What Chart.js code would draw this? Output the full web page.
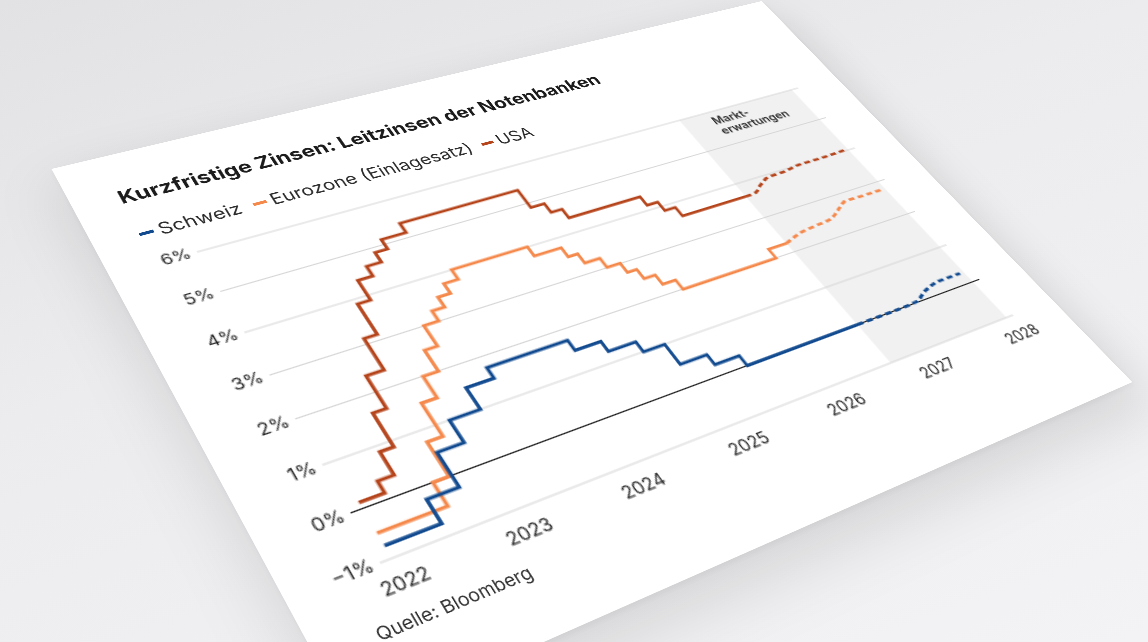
<!DOCTYPE html>
<html lang="de">
<head>
<meta charset="utf-8">
<title>Kurzfristige Zinsen: Leitzinsen der Notenbanken</title>
<script src="https://cdn.jsdelivr.net/npm/chart.js@4.4.1/dist/chart.umd.min.js"></script>
<style>
  html, body { margin: 0; padding: 0; }
  body {
    width: 1148px; height: 642px; overflow: hidden; position: relative;
    background: linear-gradient(160deg, #e2e2e4 0%, #ececee 40%, #f3f3f5 100%);
  }
  #card {
    position: absolute; left: 0; top: 0;
    width: 693px; height: 499px;
    background: #fff;
    transform-origin: 0 0;
    box-shadow: 0 18px 50px rgba(0, 0, 0, 0.13), 0 2px 6px rgba(0, 0, 0, 0.05);
    font-family: Inter, "Noto Sans", sans-serif;
  }
  #card canvas { display: block; position: absolute; left: 0; top: 0; }
  .txt { position: absolute; white-space: nowrap; }
  #title { left: 35px; top: 36px; font-size: 18.5px; line-height: 18.5px; font-weight: 700; color: #1c1c1c; }
  #legend { left: 35px; top: 76.8px; font-size: 16.5px; line-height: 16.5px; color: #2b2b2b; display: flex; }
  #legend .item { display: inline-flex; align-items: center; margin-right: 10px; }
  #legend .item i { display: inline-block; width: 11px; height: 3px; margin-right: 4px; }
  #source { left: 41px; top: 445px; font-size: 13px; line-height: 13px; color: #333; }
</style>
</head>
<body>
<div id="card">
  <canvas id="zinsen" width="693" height="499"></canvas>
  <div class="txt" id="title">Kurzfristige Zinsen: Leitzinsen der Notenbanken</div>
  <div class="txt" id="legend"></div>
  <div class="txt" id="source">Quelle: Bloomberg</div>
</div>
<script>
"use strict";

/* Leitzinsen (Datum der Aenderung, neuer Satz) */
var chDates = ['2022-01-01', '2022-06-16', '2022-09-22', '2022-12-15', '2023-03-23', '2023-06-22',
    '2024-03-21', '2024-06-20', '2024-09-26', '2024-12-12', '2025-03-20', '2025-06-19', '2026-08-25'];
var chRates = [-0.75, -0.25, 0.5, 1.0, 1.5, 1.75, 1.5, 1.25, 1.0, 0.5, 0.25, 0, 0];

var euDates = ['2022-01-01', '2022-07-27', '2022-09-14', '2022-11-02', '2022-12-21', '2023-02-08',
    '2023-03-22', '2023-05-10', '2023-06-21', '2023-08-02', '2023-09-20', '2024-06-12', '2024-09-18',
    '2024-10-23', '2024-12-18', '2025-02-05', '2025-03-12', '2025-04-23', '2025-06-11', '2026-06-12', '2026-08-25'];
var euRates = [-0.5, 0, 0.75, 1.5, 2.0, 2.5, 3.0, 3.25, 3.5, 3.75, 4.0, 3.75, 3.5, 3.25, 3.0, 2.75, 2.5, 2.25, 2.0, 2.25, 2.25];

var usDates = ['2022-01-01', '2022-03-17', '2022-05-05', '2022-06-16', '2022-07-28', '2022-09-22',
    '2022-11-03', '2022-12-15', '2023-02-02', '2023-03-23', '2023-05-04', '2023-07-27', '2024-09-19',
    '2024-11-08', '2024-12-19', '2025-09-18', '2025-10-30', '2025-12-11', '2026-08-25'];
var usRates = [0.125, 0.375, 0.875, 1.625, 2.375, 3.125, 3.875, 4.375, 4.625, 4.875, 5.125, 5.375,
    4.875, 4.625, 4.375, 4.125, 3.875, 3.625, 3.625];

/* Markterwartungen (gestrichelt) */
var chFcDates = ['2026-08-25', '2027-01-01', '2027-05-01', '2027-07-01', '2027-09-20', '2027-12-16'];
var chFcRates = [0, 0, 0.02, 0.18, 0.28, 0.28];
var euFcDates = ['2026-08-25', '2026-11-06', '2027-01-19', '2027-04-02', '2027-05-27', '2027-07-13', '2027-10-01', '2027-12-16'];
var euFcRates = [2.25, 2.38, 2.43, 2.48, 2.65, 2.78, 2.77, 2.77];
var usFcDates = ['2026-08-25', '2026-10-05', '2026-11-18', '2027-01-01', '2027-03-15', '2027-05-27', '2027-09-02', '2027-12-16'];
var usFcRates = [3.625, 3.64, 3.8, 3.92, 3.94, 4.0, 4.0, 4.02];

var yearTicks = [2022, 2023, 2024, 2025, 2026, 2027, 2028];
var rateTicks = [-1, 0, 1, 2, 3, 4, 5, 6];
var forecastStart = '2026-08-25';
var forecastEnd = '2028-01-01';
var forecastLabel = ['Markt-', 'erwartungen'];

var colCH = '#114a8f';
var colEU = '#f5894c';
var colUS = '#b5441b';

/* where the plot corners sit in the photographed, tilted card */
var plotCorners = [[197, 252], [798, 88], [1013, 315], [380, 563]];

function toYear(s) {
    var d = Date.parse(s + 'T00:00:00Z');
    var y = new Date(d).getUTCFullYear();
    var a = Date.UTC(y, 0, 1), b = Date.UTC(y + 1, 0, 1);
    return y + (d - a) / (b - a);
}

function points(dates, rates) {
    return dates.map(function (d, i) { return { x: toYear(d), y: rates[i] }; });
}

function line(label, dates, rates, color, dashed) {
    return {
        label: label,
        data: points(dates, rates),
        borderColor: color,
        backgroundColor: color,
        borderWidth: 2.8,
        borderDash: dashed ? [6, 4] : [],
        stepped: !dashed,
        cubicInterpolationMode: 'monotone',
        pointRadius: 0,
        fill: false
    };
}

/* grey band + label for the forecast period */
var forecastBand = {
    id: 'forecastBand',
    beforeDraw: function (chart) {
        var ctx = chart.ctx, area = chart.chartArea, x = chart.scales.x;
        var x0 = x.getPixelForValue(toYear(forecastStart));
        var x1 = x.getPixelForValue(toYear(forecastEnd));
        ctx.save();
        ctx.fillStyle = '#f1f1f2';
        ctx.fillRect(x0, area.top, x1 - x0, area.bottom - area.top);
        ctx.restore();
    },
    afterDraw: function (chart) {
        var ctx = chart.ctx;
        var px = chart.scales.x.getPixelForValue(toYear('2026-12-15'));
        var py = chart.scales.y.getPixelForValue(5.86);
        ctx.save();
        ctx.font = '600 12px Inter, sans-serif';
        ctx.fillStyle = '#2a2a2a';
        ctx.textAlign = 'left';
        ctx.textBaseline = 'top';
        forecastLabel.forEach(function (t, i) { ctx.fillText(t, px, py + i * 13); });
        ctx.restore();
    }
};

Chart.defaults.font.family = 'Inter, "Noto Sans", sans-serif';
Chart.defaults.color = '#222';

var chart = new Chart(document.getElementById('zinsen'), {
    type: 'line',
    data: {
        datasets: [
            line('Schweiz', chDates, chRates, colCH, false),
            line('Eurozone (Einlagesatz)', euDates, euRates, colEU, false),
            line('USA', usDates, usRates, colUS, false),
            line('Schweiz Erwartung', chFcDates, chFcRates, colCH, true),
            line('Eurozone Erwartung', euFcDates, euFcRates, colEU, true),
            line('USA Erwartung', usFcDates, usFcRates, colUS, true)
        ]
    },
    options: {
        responsive: false,
        animation: false,
        devicePixelRatio: 2,
        layout: { padding: { left: 31, right: 46, top: 116, bottom: 63.6 } },
        plugins: {
            legend: { display: false },
            tooltip: { enabled: false }
        },
        scales: {
            x: {
                type: 'linear',
                min: 2021.907,
                max: 2028.08,
                grid: { display: false },
                border: { display: false },
                afterBuildTicks: function (s) {
                    s.ticks = yearTicks.map(function (v) { return { value: v }; });
                },
                ticks: {
                    autoSkip: false,
                    maxRotation: 0,
                    padding: 3,
                    font: { size: 14 },
                    callback: function (v) { return String(v); }
                },
                afterFit: function (s) { s.height = 29.4; }
            },
            y: {
                min: -1,
                max: 6,
                afterBuildTicks: function (s) {
                    s.ticks = rateTicks.map(function (v) { return { value: v }; });
                },
                grid: {
                    drawTicks: false,
                    lineWidth: 1,
                    color: function (c) { return c.tick && c.tick.value === 0 ? '#161616' : '#d5d5d5'; }
                },
                border: { display: false },
                ticks: {
                    padding: 5,
                    font: { size: 14 },
                    callback: function (v) { return (v < 0 ? '\u2212' : '') + Math.abs(v) + '%'; }
                },
                afterFit: function (s) { s.width = 36; }
            }
        }
    },
    plugins: [forecastBand]
});

/* html legend built from the first three datasets */
document.getElementById('legend').innerHTML = chart.data.datasets.slice(0, 3).map(function (ds) {
    return '<span class="item"><i style="background:' + ds.borderColor + '"></i>' + ds.label + '</span>';
}).join('');

/* tilt the card: projective map from the flat plot rectangle onto the photographed corners */
function solve(A, b) {
    var n = b.length, i, r, c;
    for (i = 0; i < n; i++) {
        var p = i;
        for (r = i + 1; r < n; r++) if (Math.abs(A[r][i]) > Math.abs(A[p][i])) p = r;
        var t = A[i]; A[i] = A[p]; A[p] = t;
        var tb = b[i]; b[i] = b[p]; b[p] = tb;
        for (r = i + 1; r < n; r++) {
            var f = A[r][i] / A[i][i];
            for (c = i; c < n; c++) A[r][c] -= f * A[i][c];
            b[r] -= f * b[i];
        }
    }
    var x = [];
    for (i = n - 1; i >= 0; i--) {
        var s = b[i];
        for (c = i + 1; c < n; c++) s -= A[i][c] * x[c];
        x[i] = s / A[i][i];
    }
    return x;
}

var area = chart.chartArea;
var flat = [[area.left, area.top], [area.right, area.top], [area.right, area.bottom], [area.left, area.bottom]];
var A = [], B = [];
flat.forEach(function (pt, i) {
    var x = pt[0], y = pt[1], X = plotCorners[i][0], Y = plotCorners[i][1];
    A.push([x, y, 1, 0, 0, 0, -X * x, -X * y]); B.push(X);
    A.push([0, 0, 0, x, y, 1, -Y * x, -Y * y]); B.push(Y);
});
var h = solve(A, B);
document.getElementById('card').style.transform = 'matrix3d(' +
    [h[0], h[3], 0, h[6], h[1], h[4], 0, h[7], 0, 0, 1, 0, h[2], h[5], 0, 1].join(',') + ')';
</script>
</body>
</html>
